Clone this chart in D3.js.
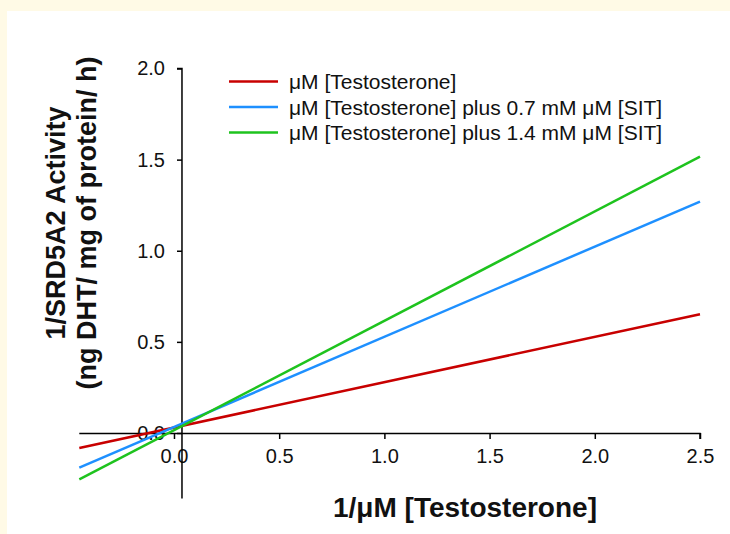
<!DOCTYPE html>
<html>
<head>
<meta charset="utf-8">
<script src="https://cdn.jsdelivr.net/npm/d3@7"></script>
<style>
  html, body { margin: 0; padding: 0; background: #fffae6; }
  svg { display: block; font-family: Arial, "Liberation Sans", sans-serif; }
</style>
</head>
<body>
<div id="chart"></div>
<script>
// x extent of the fitted lines (1/uM testosterone)
const xEnds = [-0.45, 2.5];
const seriesNames = [
  'μM [Testosterone]',
  'μM [Testosterone] plus 0.7 mM μM [SIT]',
  'μM [Testosterone] plus 1.4 mM μM [SIT]',
];
const seriesColors = ['#c80000', '#1e90ff', '#1ec31e'];
// y value at each of the two x ends
const redValues = [-0.082, 0.652];
const blueValues = [-0.19, 1.27];
const greenValues = [-0.255, 1.516];
const xTicks = [0, 0.5, 1, 1.5, 2, 2.5];
const yTicks = [0, 0.5, 1, 1.5, 2];

const width = 730;
const height = 534;

const svg = d3.select('#chart').append('svg').attr('width', width).attr('height', height);

// white panel inside the cream frame
svg.append('rect').attr('x', 7).attr('y', 11).attr('width', width - 7).attr('height', height - 11).attr('fill', '#fff');

const x = d3.scaleLinear().domain([-0.45, 2.5]).range([79.3, 700]);
const y = d3.scaleLinear().domain([-0.36, 2.0]).range([498.6, 68.5]);
const yAxisAt = 0.038; // vertical axis sits slightly right of x = 0

const seriesData = [redValues, blueValues, greenValues].map((vals, i) => ({
  name: seriesNames[i],
  color: seriesColors[i],
  points: xEnds.map((xv, j) => [xv, vals[j]]),
}));

const line = d3.line().x(d => x(d[0])).y(d => y(d[1]));

// x axis along y = 0
const xAxis = d3.axisBottom(x).tickValues(xTicks).tickSize(6).tickPadding(10).tickFormat(d3.format('.1f'));
const gx = svg.append('g').attr('transform', `translate(0,${y(0)})`).call(xAxis);
gx.select('.domain').attr('d', `M${x(-0.45)},0.5H${x(2.5)}V6`).attr('stroke', '#000').attr('stroke-width', 1.5);
gx.selectAll('.tick line').attr('stroke', '#000').attr('stroke-width', 1.5);
gx.selectAll('.tick text').attr('font-size', 20).attr('fill', '#111').attr('font-family', 'Arial, "Liberation Sans", sans-serif');

// y axis
const yAxis = d3.axisLeft(y).tickValues(yTicks).tickSize(5).tickPadding(12).tickFormat(d3.format('.1f'));
const gy = svg.append('g').attr('transform', `translate(${x(yAxisAt)},0)`).call(yAxis);
gy.select('.domain').attr('d', `M-5,${y(2)}H0V${y(-0.36)}`).attr('stroke', '#000').attr('stroke-width', 1.5);
gy.selectAll('.tick line').attr('stroke', '#000').attr('stroke-width', 1.5);
gy.selectAll('.tick text').attr('font-size', 20).attr('fill', '#111').attr('font-family', 'Arial, "Liberation Sans", sans-serif');

// fitted lines
svg.append('g')
  .selectAll('path')
  .data(seriesData)
  .join('path')
  .attr('d', d => line(d.points))
  .attr('fill', 'none')
  .attr('stroke', d => d.color)
  .attr('stroke-width', 2.5);

// legend
const legend = svg.append('g').attr('transform', 'translate(229,81.5)');
const items = legend.selectAll('g').data(seriesData).join('g')
  .attr('transform', (d, i) => `translate(0,${i * 25.5})`);
items.append('line').attr('x1', 0).attr('x2', 49).attr('stroke', d => d.color).attr('stroke-width', 2.5);
items.append('text')
  .attr('x', 60)
  .attr('dy', '0.36em')
  .attr('font-size', 21)
  .attr('fill', '#111')
  .text(d => d.name);

// axis titles
svg.append('text')
  .attr('x', 465)
  .attr('y', 517)
  .attr('text-anchor', 'middle')
  .attr('font-size', 28)
  .attr('font-weight', 'bold')
  .attr('fill', '#111')
  .text('1/μM [Testosterone]');

const yTitle = svg.append('g').attr('transform', 'translate(0,223) rotate(-90)');
yTitle.append('text')
  .attr('x', 0).attr('y', 65)
  .attr('text-anchor', 'middle')
  .attr('font-size', 27)
  .attr('font-weight', 'bold')
  .attr('fill', '#111')
  .text('1/SRD5A2 Activity');
yTitle.append('text')
  .attr('x', 0).attr('y', 96)
  .attr('text-anchor', 'middle')
  .attr('font-size', 27)
  .attr('font-weight', 'bold')
  .attr('fill', '#111')
  .text('(ng DHT/ mg of protein/ h)');
</script>
</body>
</html>
